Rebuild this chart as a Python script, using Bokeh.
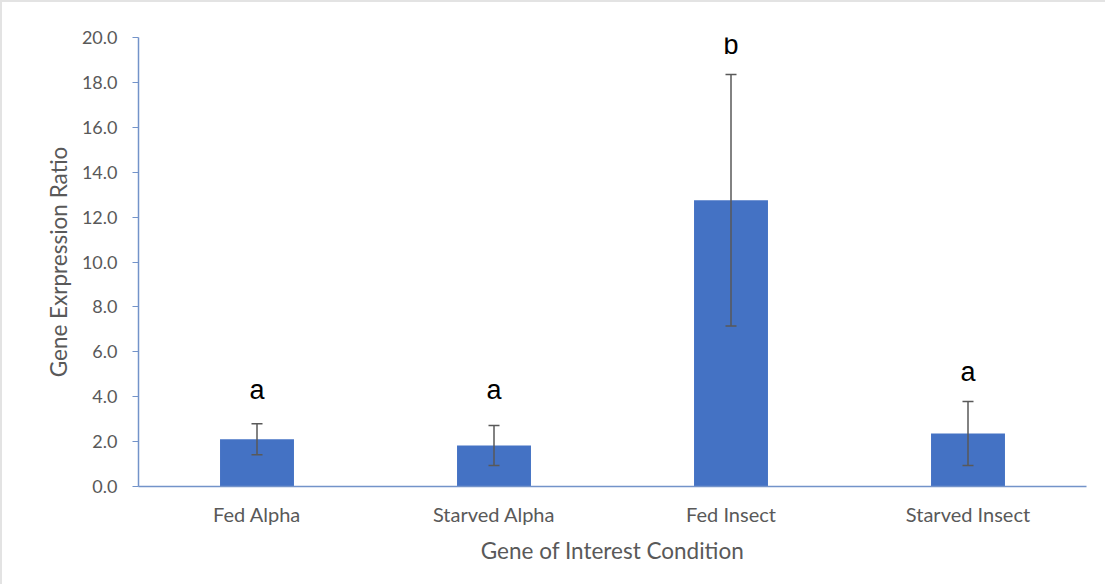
from bokeh.plotting import figure
from bokeh.models import ColumnDataSource, Whisker, FixedTicker, NumeralTickFormatter, Range1d, TeeHead
from bokeh.core.properties import value
from bokeh.embed import file_html
from bokeh.resources import INLINE

categories = ["Fed Alpha", "Starved Alpha", "Fed Insect", "Starved Insect"]
means = [2.1, 1.83, 12.75, 2.36]
errors = [0.69, 0.89, 5.6, 1.43]
letters = ["a", "a", "b", "a"]
letter_y = [4.3, 4.3, 19.65, 5.1]
y_ticks = [0, 2, 4, 6, 8, 10, 12, 14, 16, 18, 20]

src = ColumnDataSource(dict(
    cat=categories, mean=means,
    upper=[m + e for m, e in zip(means, errors)],
    lower=[m - e for m, e in zip(means, errors)],
    letter=letters, ly=letter_y,
))

p = figure(x_range=categories, width=1105, height=584, output_backend="svg",
           toolbar_location=None, min_border_left=136, min_border_right=21,
           min_border_top=35, min_border_bottom=100)
p.styles = {"border-top": "2px solid #e3e3e3", "border-left": "2px solid #e3e3e3"}
p.y_range = Range1d(0, 20)
p.outline_line_color = None
p.xgrid.grid_line_color = None
p.ygrid.grid_line_color = None
p.x_range.range_padding = 0

p.vbar(x="cat", top="mean", width=0.312, source=src, color="#4472C4", line_color=None)

w = Whisker(base="cat", upper="upper", lower="lower", source=src,
            line_color="#595959", line_width=1.5, level="overlay",
            upper_head=TeeHead(size=11, line_color="#595959", line_width=1.5),
            lower_head=TeeHead(size=11, line_color="#595959", line_width=1.5))
p.add_layout(w)

p.text(x="cat", y="ly", text="letter", source=src, text_align="center",
       text_baseline="middle", text_font=value("Liberation Sans"),
       text_font_size="27px", text_color="#000000")

axis_color = "#7393C9"
p.yaxis.ticker = FixedTicker(ticks=y_ticks)
p.yaxis.formatter = NumeralTickFormatter(format="0.0")
p.yaxis.axis_line_color = axis_color
p.yaxis.major_tick_line_color = axis_color
p.yaxis.major_tick_out = 6
p.yaxis.major_tick_in = 0
p.yaxis.minor_tick_line_color = None
p.yaxis.major_label_standoff = 15
p.yaxis.major_label_text_font = "Lato"
p.yaxis.major_label_text_font_size = "18px"
p.yaxis.major_label_text_color = "#595959"
p.yaxis.axis_label = "Gene Exrpression Ratio"
p.yaxis.axis_label_text_font = "Lato"
p.yaxis.axis_label_text_font_style = "normal"
p.yaxis.axis_label_text_font_size = "22.5px"
p.yaxis.axis_label_text_color = "#595959"
p.yaxis.axis_label_standoff = 7

p.xaxis.axis_line_color = axis_color
p.xaxis.axis_line_width = 1.5
p.yaxis.axis_line_width = 1.5
p.xaxis.major_tick_line_color = None
p.xaxis.minor_tick_line_color = None
p.xaxis.major_label_standoff = 9
p.xaxis.major_label_text_font = "Lato"
p.xaxis.major_label_text_font_size = "20px"
p.xaxis.major_label_text_color = "#595959"
p.xaxis.axis_label = "Gene of Interest Condition"
p.xaxis.axis_label_text_font = "Lato"
p.xaxis.axis_label_text_font_style = "normal"
p.xaxis.axis_label_text_font_size = "22.5px"
p.xaxis.axis_label_text_color = "#595959"
p.xaxis.axis_label_standoff = 8

open("out.html", "w").write(file_html(p, INLINE))
